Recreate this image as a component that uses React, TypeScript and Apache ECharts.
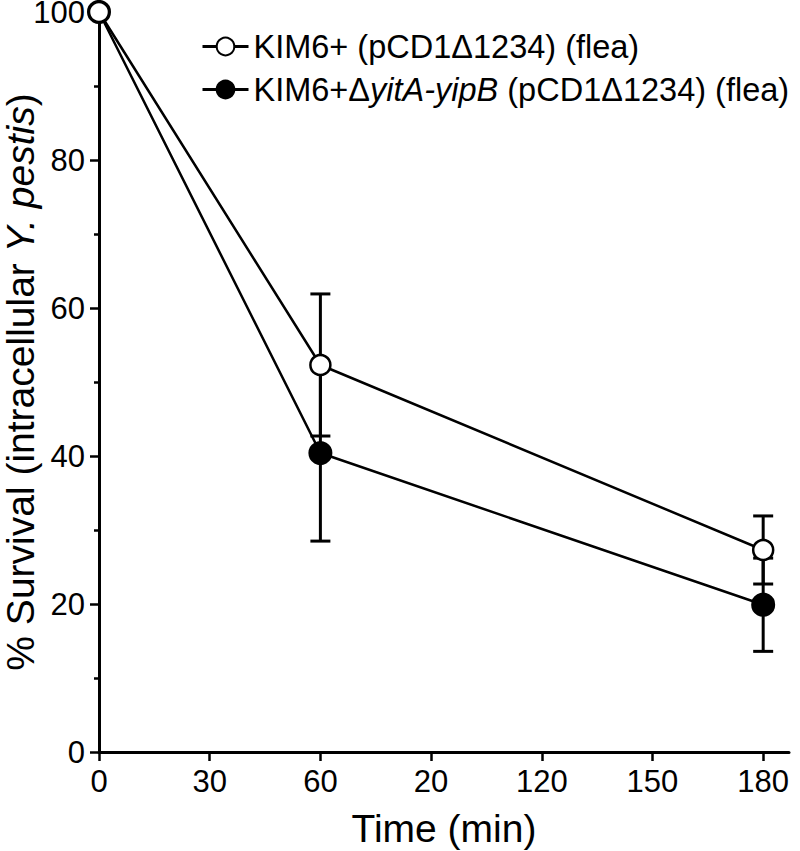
import React, { useEffect, useRef } from "react";
import * as echarts from "echarts";

const timePoints = [0, 60, 180];
const openMeans = [100, 52.3, 27.3];
const openErr = [0, 9.6, 4.6];
const filledMeans = [100, 40.4, 19.9];
const filledErr = [0, 11.9, 6.3];
const xTickValues = [0, 30, 60, 90, 120, 150, 180];
const xTickLabels = ["0", "30", "60", "20", "120", "150", "180"];
const seriesNames = ["KIM6+ (pCD1Δ1234) (flea)", "KIM6+ΔyitA-yipB (pCD1Δ1234) (flea)"];

const FONT = "Liberation Sans, Arial, sans-serif";

function errData(means: number[], errs: number[]) {
  return timePoints.map((t, i) => [t, means[i] - errs[i], means[i] + errs[i]]);
}

function errRender(params: any, api: any) {
  const x = api.value(0);
  const lo = api.value(1);
  const hi = api.value(2);
  if (hi - lo <= 0) return null;
  const pLo = api.coord([x, lo]);
  const pHi = api.coord([x, hi]);
  const hw = 10;
  const style = { stroke: "#000", lineWidth: 3 };
  return {
    type: "group",
    children: [
      { type: "line", shape: { x1: pHi[0], y1: pHi[1], x2: pLo[0], y2: pLo[1] }, style },
      { type: "line", shape: { x1: pHi[0] - hw, y1: pHi[1], x2: pHi[0] + hw, y2: pHi[1] }, style },
      { type: "line", shape: { x1: pLo[0] - hw, y1: pLo[1], x2: pLo[0] + hw, y2: pLo[1] }, style },
    ],
  };
}

export default function App() {
  const ref = useRef<HTMLDivElement>(null);
  useEffect(() => {
    if (!ref.current) return;
    const chart = echarts.init(ref.current, undefined, { renderer: "svg" });
    chart.setOption({
      animation: false,
      backgroundColor: "#fff",
      textStyle: { fontFamily: FONT },
      grid: { left: 99, right: 11, top: 12, bottom: 99, containLabel: false, outerBoundsMode: "none" },
      legend: {
        orient: "vertical",
        left: 196,
        top: 25,
        itemGap: 10,
        itemWidth: 46,
        itemHeight: 22,
        lineStyle: { width: 3, color: "#000" },
        data: seriesNames,
        formatter: (name: string) => {
          if (name === seriesNames[1]) {
            return "{a|KIM6+Δ}{i|yitA-yipB}{a| (pCD1Δ1234) (flea)}";
          }
          return "{a|" + name + "}";
        },
        textStyle: {
          fontFamily: FONT,
          color: "#000",
          rich: {
            a: { fontSize: 32.5, fontFamily: FONT, color: "#000" },
            i: { fontSize: 32.5, fontFamily: FONT, fontStyle: "italic", color: "#000" },
          },
        },
      },
      xAxis: {
        type: "value",
        min: 0,
        max: 187,
        interval: 30,
        name: "Time (min)",
        nameLocation: "middle",
        nameGap: 57,
        nameMoveOverlap: false,
        nameTextStyle: { fontSize: 39, color: "#000", fontFamily: FONT },
        axisLine: { show: true, onZero: false, lineStyle: { color: "#000", width: 3 } },
        axisTick: {
          show: true,
          length: 9,
          customValues: xTickValues,
          lineStyle: { color: "#000", width: 2.5 },
        },
        axisLabel: {
          customValues: xTickValues,
          fontSize: 31,
          color: "#000",
          margin: 14,
          fontFamily: FONT,
          formatter: (v: number) => {
            const idx = xTickValues.indexOf(v);
            if (idx < 0) return "";
            return idx === xTickValues.length - 1 ? "{r|" + xTickLabels[idx] + "}" : xTickLabels[idx];
          },
          rich: {
            r: { fontSize: 31, fontFamily: FONT, color: "#000", padding: [0, 0, 10, 0] },
          },
        },
        splitLine: { show: false },
      },
      yAxis: {
        type: "value",
        min: 0,
        max: 100,
        interval: 20,
        name: "{n|% Survival (intracellular }{i|Y. pestis}{n|)}",
        nameLocation: "middle",
        nameGap: 59,
        nameMoveOverlap: false,
        nameTextStyle: {
          color: "#000",
          rich: {
            n: { fontSize: 39, lineHeight: 40, fontFamily: FONT, color: "#000" },
            i: { fontSize: 39, lineHeight: 40, fontFamily: FONT, fontStyle: "italic", color: "#000" },
          },
        },
        axisLine: { show: true, lineStyle: { color: "#000", width: 3 } },
        axisTick: { show: true, length: 9, lineStyle: { color: "#000", width: 2.5 } },
        minorTick: { show: true, splitNumber: 2, length: 5, lineStyle: { color: "#000", width: 2.5 } },
        axisLabel: { fontSize: 31, lineHeight: 24, color: "#000", margin: 14, fontFamily: FONT },
        splitLine: { show: false },
      },
      series: [
        {
          type: "custom",
          name: "errFilled",
          renderItem: errRender,
          data: errData(filledMeans, filledErr),
          z: 1,
          silent: true,
        },
        {
          type: "custom",
          name: "errOpen",
          renderItem: errRender,
          data: errData(openMeans, openErr),
          z: 1,
          silent: true,
        },
        {
          type: "line",
          name: seriesNames[1],
          data: timePoints.map((t, i) => [t, filledMeans[i]]),
          symbol: "circle",
          symbolSize: 22,
          lineStyle: { color: "#000", width: 2.5 },
          itemStyle: { color: "#000", borderColor: "#000", borderWidth: 2 },
          z: 3,
        },
        {
          type: "line",
          name: seriesNames[0],
          data: timePoints.map((t, i) => [t, openMeans[i]]),
          symbol: "circle",
          symbolSize: 20,
          lineStyle: { color: "#000", width: 2.5 },
          itemStyle: { color: "#fff", borderColor: "#000", borderWidth: 2.5 },
          z: 4,
        },
      ],
    });
    return () => chart.dispose();
  }, []);
  return <div ref={ref} style={{ width: 800, height: 851, position: "absolute", left: 0, top: 0 }} />;
}
